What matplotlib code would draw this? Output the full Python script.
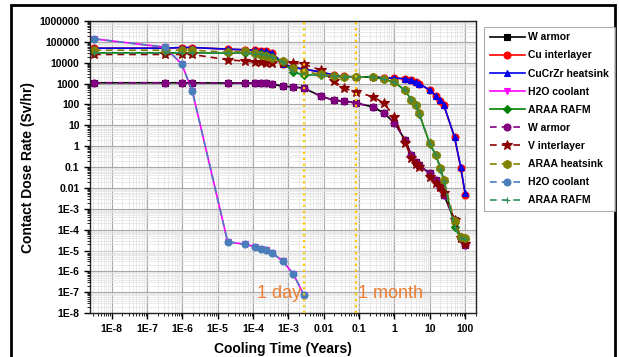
import numpy as np
import matplotlib
matplotlib.use("Agg")
import matplotlib.pyplot as plt
from matplotlib.ticker import LogLocator, FuncFormatter, NullFormatter, FixedLocator
from matplotlib.patches import Rectangle

nan = np.nan
# Cooling times (years)
time = [3.17e-9, 3.17e-7, 9.51e-7, 1.90e-6, 1.90e-5, 5.71e-5, 1.14e-4, 1.71e-4,
        2.28e-4, 3.42e-4, 6.85e-4, 1.37e-3, 2.74e-3, 8.22e-3, 1.92e-2, 3.84e-2,
        8.33e-2, 0.25, 0.5, 1, 2, 3, 4, 5, 10, 15, 20, 25, 50, 75, 100]

w_armor_a = [1100, 1100, 1100, 1100, 1070, 1070, 1060, 1050, 1040, 950, 760, 690, 610,
             250, 160, 145, 117, 76, 39, 13, 2.0, 0.38, 0.17, 0.12, 0.05, 0.024, 0.011,
             0.0046, 2.9e-4, 4e-5, 1.8e-5]
cu_a = [5.0e4, 5.0e4, 5.4e4, 5.4e4, 4.5e4, 4.2e4, 3.9e4, 3.7e4, 3.5e4, 3.1e4, 9000, 6000,
        5000, 3600, 2600, 2200, 2100, 2100, 1900, 1850, 1700, 1500, 1200, 1000, 480, 245,
        155, 90, 2.7, 0.095, 0.0048]
cucrzr_a = [5.0e4, 5.0e4, 5.4e4, 5.4e4, 4.5e4, 4.2e4, 3.9e4, 3.7e4, 3.5e4, 3.1e4, 9000, 6000,
            5000, 3600, 2600, 2200, 2100, 2100, 1900, 1850, 1700, 1500, 1200, 1000, 490, 250,
            160, 93, 2.8, 0.1, 0.0056]
h2o_a = [1.4e5, 5.6e4, 8700, 440, 2.6e-5, 2.0e-5, 1.5e-5, 1.2e-5, 1.05e-5, 7.6e-6, 3.2e-6,
         7.4e-7, 7.4e-8] + [nan] * 18
araa_rafm_a = [3.0e4, 3.0e4, 3.0e4, 3.0e4, 2.9e4, 2.9e4, 2.7e4, 2.5e4, 2.3e4, 1.9e4, 1.1e4,
               3600, 2600, 2500, 2300, 2100, 2100, 2050, 1650, 1150, 480, 160, 90, 36, 1.3,
               0.36, 0.085, 0.022, 1.3e-4, 4e-5, 3.5e-5]

w_armor_b = [1100, 1100, 1100, 1100, 1070, 1070, 1060, 1050, 1040, 950, 760, 690, 610,
             250, 160, 145, 117, 76, 39, 13, 2.0, 0.38, 0.17, 0.12, 0.05, 0.024, 0.011,
             0.0046, 2.9e-4, 4e-5, 1.8e-5]
v_inter_b = [2.5e4, 2.5e4, 2.5e4, 2.5e4, 1.4e4, 1.2e4, 1.1e4, 1.05e4, 1.0e4, 1.0e4, 9800,
             9800, 8500, 4500, 1300, 600, 400, 230, 118, 25, 1.5, 0.27, 0.14, 0.1, 0.033,
             0.018, 0.011, 0.006, 3e-4, 4e-5, 2e-5]
araa_heat_b = [4.0e4, 4.0e4, 4.0e4, 4.0e4, 3.2e4, 3.5e4, 2.9e4, 2.3e4, 2.1e4, 1.7e4, 1.2e4,
               5500, 3600, 2900, 2300, 2100, 2100, 2100, 1700, 1200, 500, 170, 93, 38, 1.4,
               0.38, 0.09, 0.024, 2.5e-4, 4.5e-5, 4e-5]
h2o_b = [1.4e5, 5.6e4, 8700, 440, 2.6e-5, 2.0e-5, 1.5e-5, 1.2e-5, 1.05e-5, 7.6e-6, 3.2e-6,
         7.4e-7, 7.4e-8] + [nan] * 18
araa_rafm_b = [3.0e4, 3.0e4, 3.0e4, 3.0e4, 2.9e4, 2.9e4, 2.7e4, 2.5e4, 2.3e4, 1.9e4, 1.1e4,
               3700, 2600, 2500, 2300, 2100, 2100, 2050, 1650, 1150, 480, 160, 90, 36, 1.3,
               0.36, 0.085, 0.022, 1.3e-4, 4e-5, 3.5e-5]

labels = ["W armor", "Cu interlayer", "CuCrZr heatsink", "H2O coolant", "ARAA RAFM",
          "W armor", "V interlayer", "ARAA heatsink", "H2O coolant", "ARAA RAFM"]
x_exps = list(range(-8, 3))
y_exps = list(range(-8, 7))

plt.rcParams['font.family'] = ['Liberation Sans', 'DejaVu Sans']
fig = plt.figure(figsize=(6.2, 3.57), dpi=100)
ax = fig.add_axes([0.145, 0.123, 0.623, 0.818])

ds = (0, (4, 3))
series = [
    (w_armor_a, dict(color='black', marker='s', ls='-')),
    (cu_a, dict(color='red', marker='o', ls='-')),
    (cucrzr_a, dict(color='#0000EE', marker='^', ls='-')),
    (h2o_a, dict(color='#FF00FF', marker='v', ls='-')),
    (araa_rafm_a, dict(color='#008000', marker='D', ls='-', ms=4.5)),
    (w_armor_b, dict(color='#800080', marker='o', ls=ds)),
    (v_inter_b, dict(color='#8B0000', marker='*', ls=ds, ms=7)),
    (araa_heat_b, dict(color='#808000', marker='h', ls=ds, ms=6)),
    (h2o_b, dict(color='#4A7EBB', marker='o', ls=ds)),
    (araa_rafm_b, dict(color='#2E8B57', marker='+', ls=ds)),
]
for (vals, st), lab in zip(series, labels):
    kw = dict(lw=1.2, ms=5)
    kw.update(st)
    ax.plot(time, vals, label=lab, markeredgewidth=0.8, **kw)

ax.set_xscale('log')
ax.set_yscale('log')
ax.set_xlim(2.4e-9, 205)
ax.set_ylim(1e-8, 1e6)

ax.xaxis.set_major_locator(FixedLocator([10.0 ** e for e in x_exps]))
ax.yaxis.set_major_locator(FixedLocator([10.0 ** e for e in y_exps]))
ax.xaxis.set_minor_locator(LogLocator(base=10, subs=np.arange(2, 10), numticks=50))
ax.yaxis.set_minor_locator(LogLocator(base=10, subs=np.arange(2, 10), numticks=50))
ax.xaxis.set_minor_formatter(NullFormatter())
ax.yaxis.set_minor_formatter(NullFormatter())


def fmt(v, pos):
    e = int(round(np.log10(v)))
    if e >= 0:
        return str(10 ** e)
    if e >= -2:
        return ('%.' + str(-e) + 'f') % (10.0 ** e)
    return '1E%d' % e


ax.xaxis.set_major_formatter(FuncFormatter(fmt))
ax.yaxis.set_major_formatter(FuncFormatter(fmt))
ax.tick_params(which='major', direction='out', length=4, width=1, labelsize=7.5)
ax.tick_params(which='minor', direction='out', length=2, width=0.6)
for lab in ax.get_xticklabels() + ax.get_yticklabels():
    lab.set_fontweight('bold')

ax.grid(True, which='major', color='#A8A8A8', lw=0.8)
ax.grid(True, which='minor', color='#E2E2E2', lw=0.5)
ax.set_axisbelow(True)
for s in ax.spines.values():
    s.set_linewidth(1.0)
    s.set_color('#222222')

ax.set_xlabel('Cooling Time (Years)', fontsize=10, fontweight='bold', labelpad=6)
ax.set_ylabel('Contact Dose Rate (Sv/hr)', fontsize=10, fontweight='bold', labelpad=3)

day = 1 / 365.0
month = 1 / 12.0
ax.axvline(day, color='#FFC800', ls=':', lw=1.6, zorder=5)
ax.axvline(month, color='#FFC800', ls=':', lw=1.6, zorder=5)
ax.text(day / 1.2, 9e-8, '1 day', color='#ED7D31', fontsize=13, ha='right', va='center')
ax.text(month * 1.08, 9e-8, '1 month', color='#ED7D31', fontsize=13, ha='left', va='center')

leg = fig.legend(loc='upper left', bbox_to_anchor=(0.772, 0.94), frameon=True,
                 fancybox=False, edgecolor='#999999', prop={'weight': 'bold', 'size': 7.5},
                 handlelength=3.4, labelspacing=0.78, borderpad=0.55, handletextpad=0.3)
leg.get_frame().set_linewidth(0.8)

fig.patches.append(Rectangle((11 / 620, -0.05), (615 - 11) / 620, 1.0 - 5 / 357 + 0.05,
                             transform=fig.transFigure, fill=False, edgecolor='black', lw=2))

fig.savefig('out.png', dpi=100)
